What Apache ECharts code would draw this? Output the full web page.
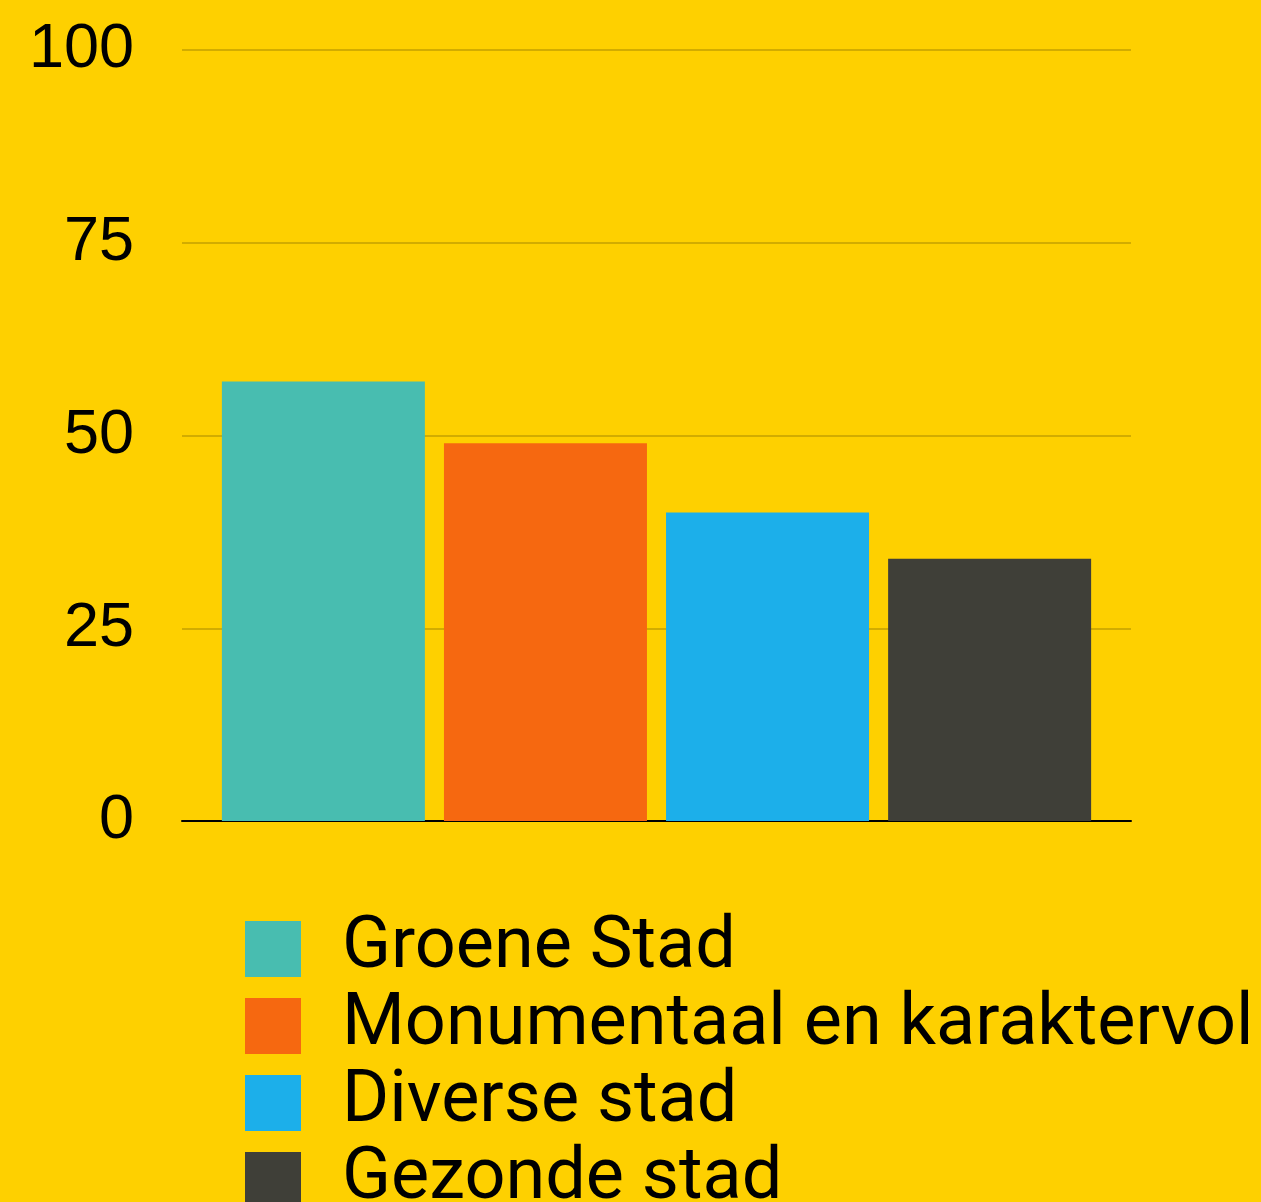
<!DOCTYPE html>
<html>
<head>
<meta charset="utf-8">
<script src="https://cdn.jsdelivr.net/npm/echarts@6/dist/echarts.min.js"></script>
<style>
  html, body { margin: 0; padding: 0; background: #FED000; }
  #main { width: 1261px; height: 1202px; }
</style>
</head>
<body>
<div id="main"></div>
<script>
// data
var seriesNames = ['Groene Stad', 'Monumentaal en karaktervol', 'Diverse stad', 'Gezonde stad'];
var seriesValues = [57, 49, 40, 34];
var seriesColors = ['#48BDB0', '#F66810', '#1CAFEA', '#3F3F38'];
var yTicks = [0, 25, 50, 75, 100];

var myChart = echarts.init(document.getElementById('main'));

var series = [];
for (var i = 0; i < seriesNames.length; i++) {
    series.push({
        name: seriesNames[i],
        type: 'bar',
        data: [seriesValues[i]],
        barWidth: 203,
        barGap: '9.4%',
        itemStyle: { color: seriesColors[i] },
        emphasis: { disabled: true }
    });
}

var option = {
    backgroundColor: '#FED000',
    animation: false,
    grid: {
        left: 182,
        right: 130,
        top: 50,
        bottom: 381,
        containLabel: false
    },
    xAxis: {
        type: 'category',
        data: [''],
        axisLine: { lineStyle: { color: '#000', width: 2 } },
        axisTick: { show: false },
        axisLabel: { show: false }
    },
    yAxis: {
        type: 'value',
        min: yTicks[0],
        max: yTicks[yTicks.length - 1],
        interval: 25,
        axisLine: { show: false },
        axisTick: { show: false },
        axisLabel: {
            margin: 48,
            color: '#000',
            fontSize: 63,
            fontFamily: '"Liberation Sans", Arial, sans-serif'
        },
        splitLine: { lineStyle: { color: '#D2AC00', width: 2 } }
    },
    legend: {
        orient: 'vertical',
        left: 245,
        top: 913,
        height: 400,
        padding: 0,
        itemWidth: 56,
        itemHeight: 56,
        itemGap: 5,
        icon: 'rect',
        data: seriesNames,
        textStyle: {
            color: '#000',
            fontSize: 72,
            padding: [0, 0, 0, 36],
            fontFamily: 'Roboto, sans-serif'
        }
    },
    series: series
};

myChart.setOption(option);
</script>
</body>
</html>
